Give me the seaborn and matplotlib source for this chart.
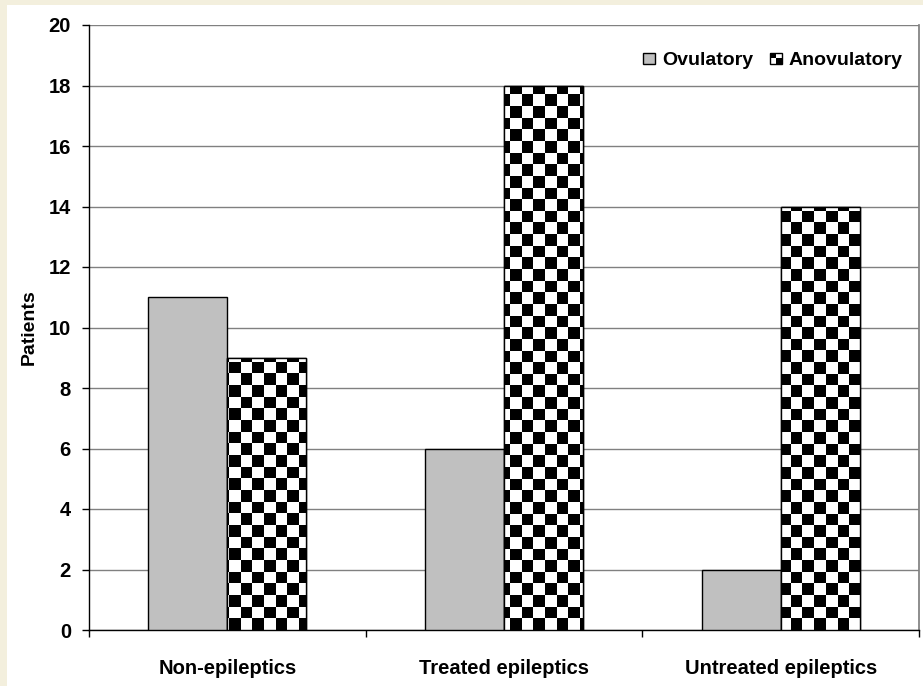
import numpy as np
import pandas as pd
import matplotlib
matplotlib.use("Agg")
import matplotlib.pyplot as plt
import seaborn as sns
from matplotlib.patches import Rectangle
from matplotlib.legend_handler import HandlerBase

# data
groups = ["Non-epileptics", "Treated epileptics", "Untreated epileptics"]
ovulatory = [11, 6, 2]
anovulatory = [9, 18, 14]
series = ["Ovulatory", "Anovulatory"]

df = pd.DataFrame({
    "group": groups * 2,
    "patients": ovulatory + anovulatory,
    "status": [series[0]] * 3 + [series[1]] * 3,
})

sns.set_theme(style="white")
plt.rcParams["font.family"] = ["Liberation Sans", "DejaVu Sans"]
plt.rcParams["font.weight"] = "bold"
plt.rcParams["text.color"] = "black"
plt.rcParams["xtick.color"] = "black"
plt.rcParams["ytick.color"] = "black"
plt.rcParams["axes.labelcolor"] = "black"

fig = plt.figure(figsize=(9.23, 6.86), dpi=100)
fig.patch.set_facecolor("#F3EFDD")
# white panel inside the beige frame
fig.patches.append(Rectangle((7 / 923, 0), 1, 1 - 5 / 686, transform=fig.transFigure,
                             facecolor="white", edgecolor="none", zorder=-5))

ax = fig.add_axes([89 / 923, 1 - 630 / 686, (919 - 89) / 923, (630 - 25) / 686])
ax.set_facecolor("white")

sns.barplot(data=df, x="group", y="patients", hue="status", order=groups,
            hue_order=series, palette={"Ovulatory": "#C0C0C0", "Anovulatory": "white"},
            width=0.57, gap=0, edgecolor="black", linewidth=1, saturation=1,
            legend=False, ax=ax, zorder=3)

ax.set_xlim(-0.5, 2.5)
ax.set_ylim(0, 20)

# checkerboard fill for anovulatory bars
ncol, nrow = 71, 52
checker = (np.add.outer(np.arange(nrow), np.arange(ncol)) % 2).astype(float)
for bar in ax.containers[1]:
    im = ax.imshow(checker, cmap="gray", extent=(-0.5, 2.5, 0, 20), origin="lower",
                   aspect="auto", interpolation="nearest", zorder=3.5)
    im.set_clip_path(bar)
    edge = Rectangle(bar.get_xy(), bar.get_width(), bar.get_height(),
                     facecolor="none", edgecolor="black", linewidth=1, zorder=4)
    ax.add_patch(edge)

ax.set_xlim(-0.5, 2.5)
ax.set_ylim(0, 20)
ax.set_yticks(range(0, 21, 2))
ax.yaxis.grid(True, color="#808080", linewidth=1)
ax.set_axisbelow(True)

ax.set_xticks([0, 1, 2])
ax.set_xticks([-0.5, 0.5, 1.5, 2.5], minor=True)
ax.tick_params(axis="x", which="major", length=0, pad=21, labelsize=14.5)
ax.tick_params(axis="x", which="minor", length=5, width=1, color="black", direction="out", bottom=True)
ax.tick_params(axis="y", length=5, width=1, color="black", direction="out", left=True, pad=8, labelsize=14.5)
for lab in ax.get_xticklabels() + ax.get_yticklabels():
    lab.set_fontweight("bold")

ax.set_xlabel("")
ax.set_ylabel("Patients", fontsize=14, fontweight="bold", labelpad=8)

for s in ["left", "bottom"]:
    ax.spines[s].set_color("black")
    ax.spines[s].set_linewidth(1)
ax.spines["right"].set_color("#808080")
ax.spines["top"].set_visible(False)


class CheckerHandler(HandlerBase):
    def create_artists(self, legend, orig_handle, xdescent, ydescent, width, height, fontsize, trans):
        s = min(width, height)
        x0 = -xdescent + (width - s) / 2
        y0 = -ydescent
        out = [Rectangle((x0, y0), s, s, facecolor="white", edgecolor="black", lw=1, transform=trans)]
        h = s / 2
        out.append(Rectangle((x0, y0 + h), h, h, facecolor="black", edgecolor="none", transform=trans))
        out.append(Rectangle((x0 + h, y0), h, h, facecolor="black", edgecolor="none", transform=trans))
        return out


class SquareHandler(HandlerBase):
    def create_artists(self, legend, orig_handle, xdescent, ydescent, width, height, fontsize, trans):
        s = min(width, height)
        x0 = -xdescent + (width - s) / 2
        return [Rectangle((x0, -ydescent), s, s, facecolor=orig_handle.get_facecolor(),
                          edgecolor="black", lw=1, transform=trans)]


h1 = Rectangle((0, 0), 1, 1, facecolor="#C0C0C0")
h2 = Rectangle((0, 0), 1, 1, facecolor="white")
ax.legend([h1, h2], series, handler_map={h1: SquareHandler(), h2: CheckerHandler()},
          loc="upper right", bbox_to_anchor=(0.997, 0.978), ncol=2, frameon=False,
          prop={"weight": "bold", "size": 14}, handlelength=0.6, handleheight=0.6,
          handletextpad=0.35, columnspacing=0.9, borderaxespad=0.3)

fig.savefig("out.png", dpi=100, facecolor=fig.get_facecolor())
